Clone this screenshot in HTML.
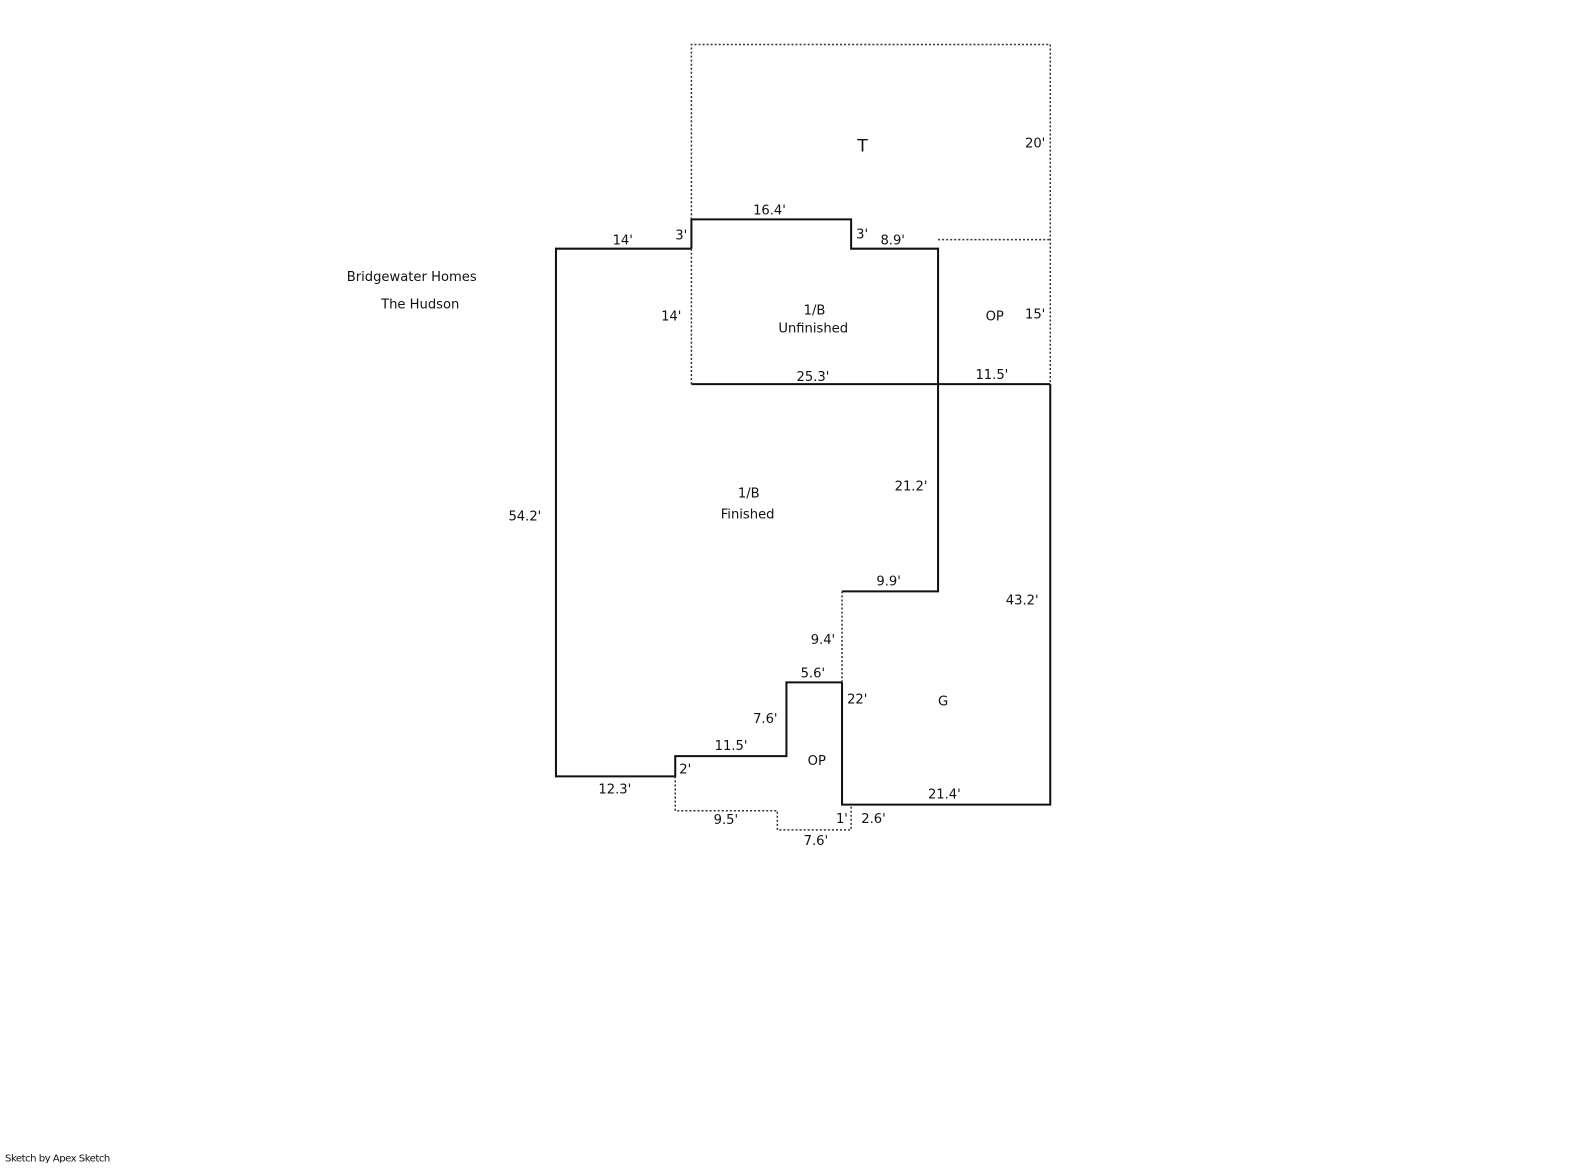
<!DOCTYPE html>
<html><head><style>
body{margin:0;background:#fff;}
svg text{font-family:"DejaVu Sans","Liberation Sans",sans-serif;font-size:13px;fill:#111;}
</style></head><body>
<svg width="1585" height="1163" viewBox="0 0 1568 1150.5" xmlns="http://www.w3.org/2000/svg">
<g fill="none" stroke="#111" stroke-width="2">
<polyline points="684,246 550,246 550,768 668,768 668,748 778,748 778,675 833,675"/>
<polyline points="684,246 684,217 842,217 842,246 928,246 928,585 833,585"/>
<line x1="684" y1="380" x2="1039" y2="380"/>
<polyline points="1039,380 1039,796 833,796 833,675"/>
</g>
<g fill="none" stroke="#333" stroke-width="1.5" stroke-dasharray="2,2">
<polyline points="684,217 684,44 1039,44 1039,380"/>
<line x1="684" y1="246" x2="684" y2="380"/>
<polyline points="928,237 1039,237"/>
<line x1="833" y1="585" x2="833" y2="675"/>
<polyline points="668,768 668,802 769,802 769,821 842,821 842,796"/>
</g>
<text x="343" y="278">Bridgewater Homes</text>
<text x="377" y="305">The Hudson</text>
<text x="848" y="150" style="font-size:17px">T</text>
<text x="1014" y="146">20'</text>
<text x="745" y="212">16.4'</text>
<text x="606" y="242">14'</text>
<text x="668" y="237">3'</text>
<text x="847" y="236">3'</text>
<text x="871" y="242">8.9'</text>
<text x="795" y="311">1/B</text>
<text x="770" y="329">Unfinished</text>
<text x="654" y="317">14'</text>
<text x="975" y="317">OP</text>
<text x="1014" y="315">15'</text>
<text x="788" y="377">25.3'</text>
<text x="965" y="375">11.5'</text>
<text x="730" y="492">1/B</text>
<text x="713" y="513">Finished</text>
<text x="885" y="485">21.2'</text>
<text x="503" y="515">54.2'</text>
<text x="867" y="579">9.9'</text>
<text x="995" y="598">43.2'</text>
<text x="802" y="637">9.4'</text>
<text x="792" y="670">5.6'</text>
<text x="838" y="696">22'</text>
<text x="928" y="698">G</text>
<text x="745" y="715">7.6'</text>
<text x="707" y="742">11.5'</text>
<text x="799" y="757">OP</text>
<text x="672" y="765">2'</text>
<text x="592" y="785">12.3'</text>
<text x="918" y="790">21.4'</text>
<text x="706" y="815">9.5'</text>
<text x="827" y="814">1'</text>
<text x="852" y="814">2.6'</text>
<text x="795" y="836">7.6'</text>
<text x="5" y="1149" style="font-size:10px;letter-spacing:-0.5px">Sketch by Apex Sketch</text>
</svg>
</body></html>
